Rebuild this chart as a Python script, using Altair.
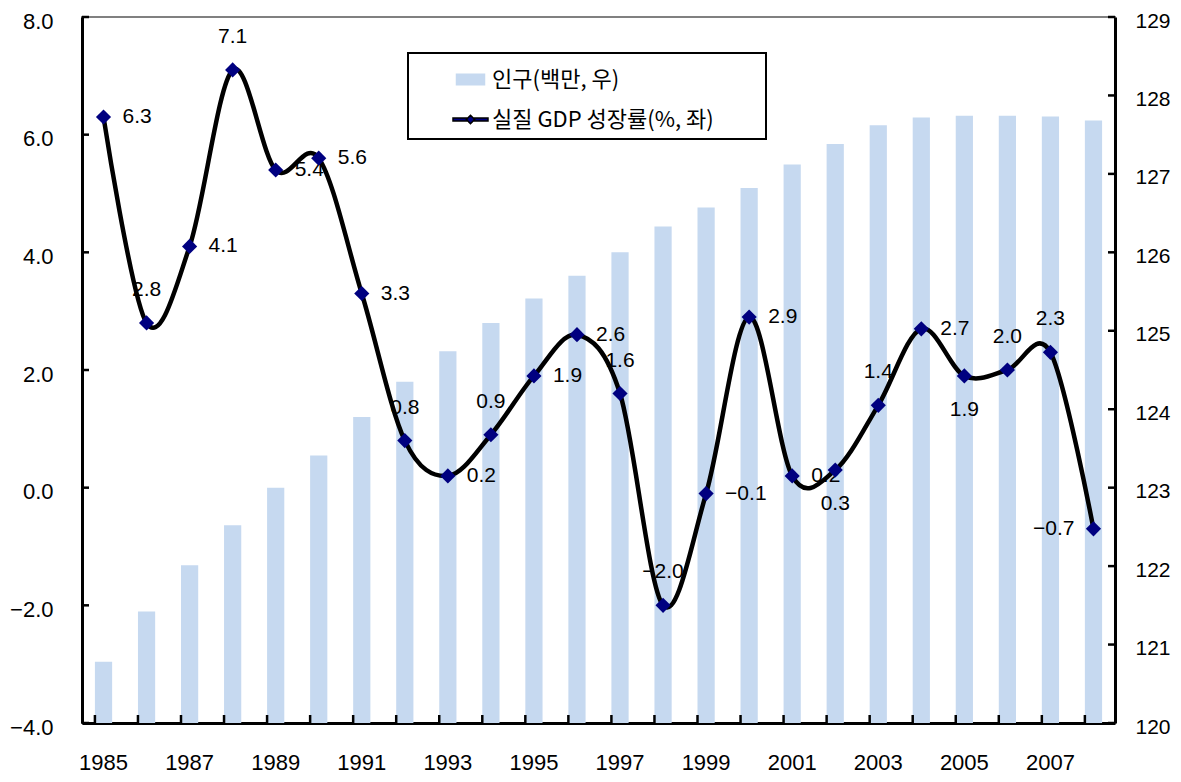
import altair as alt
import pandas as pd

years = list(range(1985, 2009))
population = [120.78, 121.42, 122.01, 122.52, 123.00, 123.41, 123.90, 124.35,
              124.74, 125.10, 125.41, 125.70, 126.00, 126.33, 126.57, 126.82,
              127.12, 127.38, 127.62, 127.72, 127.74, 127.74, 127.73, 127.68]
gdp_growth = [6.3, 2.8, 4.1, 7.1, 5.4, 5.6, 3.3, 0.8, 0.2, 0.9, 1.9, 2.6,
              1.6, -2.0, -0.1, 2.9, 0.2, 0.3, 1.4, 2.7, 1.9, 2.0, 2.3, -0.7]

pop_name = "인구(백만, 우)"
gdp_name = "실질 GDP 성장률(%, 좌)"

left_ticks = [-4, -2, 0, 2, 4, 6, 8]
right_ticks = [120, 121, 122, 123, 124, 125, 126, 127, 128, 129]
year_labels = years[::2]

# label placement groups
above_years = [1986, 1988, 1992, 1994, 1997, 1998, 2003, 2006, 2007]
below_years = [2002, 2005]
left_years = [2008]

df = pd.DataFrame({"year": years, "pop": population, "gdp": gdp_growth})
df["pos"] = ["t" if y in above_years else "b" if y in below_years
             else "l" if y in left_years else "r" for y in years]

FONT = "Liberation Sans"
KFONT = "Noto Sans CJK KR"
W, H = 1033, 706

base = alt.Chart(df)

x_axis = alt.Axis(title=None, values=year_labels, labelAngle=0, ticks=False,
                  tickSize=0, labelPadding=29, labelFontSize=22, labelFont=FONT,
                  labelColor="black", domainColor="black", domainWidth=3)
x_scale = alt.Scale(paddingInner=0.6, paddingOuter=0.3)
x_enc = alt.X("year:O", scale=x_scale, axis=x_axis)

yr_axis = alt.Axis(orient="right", title=None, values=right_ticks, format="d",
                   ticks=False, tickSize=0, labelPadding=20, labelFontSize=21,
                   labelFont=FONT, labelColor="black", labelAlign="left", labelOffset=4,
                   domainColor="black", domainWidth=3, grid=False)
yr_scale = alt.Scale(domain=[120, 129], zero=False, nice=False)

yl_axis = alt.Axis(orient="left", title=None, values=left_ticks, format=".1f",
                   ticks=False, tickSize=0, labelPadding=29, labelFontSize=22,
                   labelFont=FONT, labelColor="black", labelOffset=4,
                   domainColor="black", domainWidth=3, grid=False)
yl_scale = alt.Scale(domain=[-4, 8], zero=False, nice=False)
y_gdp = alt.Y("gdp:Q", scale=yl_scale, axis=yl_axis)

# ---- population group (right axis) ----
bars = base.mark_bar(color="#c6d9f0").encode(
    x=x_enc,
    y=alt.Y("pop:Q", scale=yr_scale, axis=yr_axis),
    y2=alt.datum(120),
)
right_tick_marks = alt.Chart(pd.DataFrame({"pop": right_ticks})).mark_rule(
    color="black", strokeWidth=2.5).encode(
    y=alt.Y("pop:Q", scale=yr_scale, axis=yr_axis), x=alt.value(W), x2=alt.value(W - 7))
bottom_tick_marks = base.mark_rule(color="black", strokeWidth=2.5).encode(
    x=alt.X("year:O", bandPosition=0, scale=x_scale, axis=x_axis),
    y=alt.value(H), y2=alt.value(H - 8))
pop_group = alt.layer(bars, right_tick_marks, bottom_tick_marks)

# ---- GDP group (left axis) ----
left_tick_marks = alt.Chart(pd.DataFrame({"gdp": left_ticks})).mark_rule(
    color="black", strokeWidth=2.5).encode(
    y=y_gdp, x=alt.value(0), x2=alt.value(7))

txt = dict(fontSize=21, font=FONT, color="black", baseline="middle")
text_enc = alt.Text("gdp:Q", format=".1f")
lab_r = base.transform_filter("datum.pos == 'r'").mark_text(align="left", dx=19, **txt).encode(
    x=x_enc, y=y_gdp, text=text_enc)
lab_t = base.transform_filter("datum.pos == 't'").mark_text(align="center", dy=-33, **txt).encode(
    x=x_enc, y=y_gdp, text=text_enc)
lab_b = base.transform_filter("datum.pos == 'b'").mark_text(align="center", dy=34, **txt).encode(
    x=x_enc, y=y_gdp, text=text_enc)
lab_l = base.transform_filter("datum.pos == 'l'").mark_text(align="right", dx=-19, **txt).encode(
    x=x_enc, y=y_gdp, text=text_enc)

line = base.mark_line(color="black", strokeWidth=4.5, interpolate="cardinal").encode(
    x=x_enc, y=y_gdp)
points = base.mark_point(shape="diamond", filled=True, size=230, color="#000080",
                         opacity=1).encode(x=x_enc, y=y_gdp)

gdp_group = alt.layer(left_tick_marks, lab_r, lab_t, lab_b, lab_l, line, points)

# ---- legend ----
rect_path = "M-0.8,-0.3H0.8V0.3H-0.8Z"
line_path = ("M-1,-0.08H-0.2V0.08H-1Z M0.2,-0.08H1V0.08H0.2Z "
             "M0,-0.24L0.24,0L0,0.24L-0.24,0Z")
leg = alt.Legend(orient="none", legendX=326, legendY=36, title=None, padding=8,
                 symbolSize=1225, symbolOffset=36, labelOffset=3, rowPadding=10,
                 strokeColor="black", fillColor="white",
                 labelFont=KFONT, labelFontSize=22, labelColor="black", labelLimit=500,
                 symbolOpacity=1, symbolStrokeWidth=1.5,
                 labelExpr="datum.label + '\u2003\u2003\u200b'")
dom = [pop_name, gdp_name]
legend_df = pd.DataFrame({"series": dom})
legend_layer = alt.Chart(legend_df).mark_point(filled=True, opacity=0, size=1225,
                                                strokeWidth=1.5).encode(
    fill=alt.Fill("series:N", scale=alt.Scale(domain=dom, range=["#c6d9f0", "#000080"]), legend=leg),
    stroke=alt.Stroke("series:N", scale=alt.Scale(domain=dom, range=["#c6d9f0", "#000000"]), legend=leg),
    shape=alt.Shape("series:N", scale=alt.Scale(domain=dom, range=[rect_path, line_path]), legend=leg),
)

chart = alt.layer(pop_group, gdp_group, legend_layer).resolve_scale(
    y="independent").properties(
    width=W, height=H,
    autosize=alt.AutoSizeParams(type="none"),
    padding={"left": 74, "top": 9, "right": 58, "bottom": 57},
).configure_view(stroke="#808080", strokeWidth=2).configure_legend(strokeWidth=2)

chart.save("out.html", embed_options={"renderer": "svg", "actions": False})
